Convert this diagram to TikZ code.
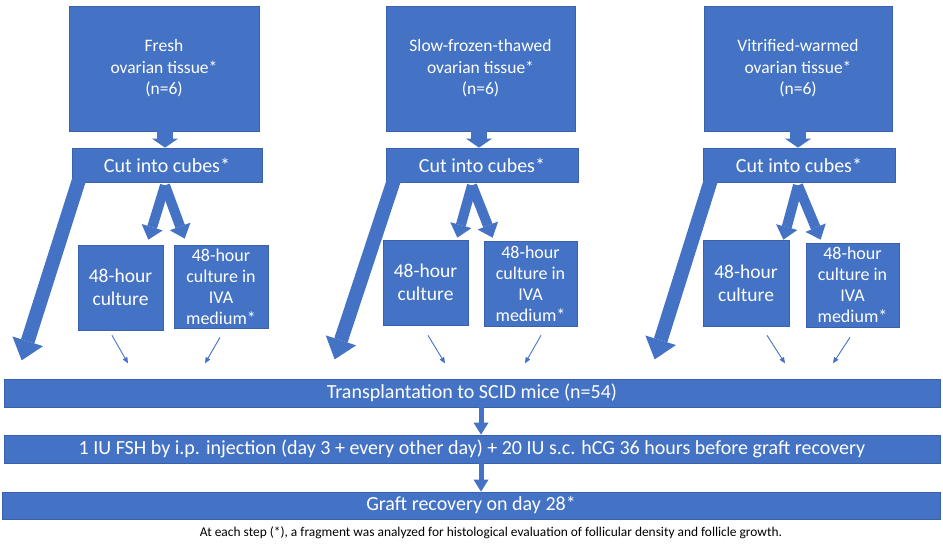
\documentclass[tikz,border=0pt]{standalone}
\usepackage{fontspec}
\setmainfont{Carlito}
\usetikzlibrary{arrows.meta, calc}
\definecolor{ofblue}{HTML}{4472C4}
\definecolor{ofedge}{HTML}{3A62AC}

\begin{document}
\begin{tikzpicture}[x=1pt, y=-1pt,
    box/.style={fill=ofblue, draw=ofedge, line width=0.7pt, text=white, align=center, inner sep=0pt},
    srcbox/.style={box, minimum height=125pt, font=\fontsize{17.5}{21.5}\selectfont},
    cutbox/.style={box, minimum height=34pt, font=\fontsize{20}{24}\selectfont},
    culbox/.style={box, font=\fontsize{19.5}{23}\selectfont},
    ivabox/.style={box, font=\fontsize{18}{21}\selectfont},
    stepbox/.style={box, minimum width=936pt, minimum height=28pt, font=\fontsize{20}{24}\selectfont},
    feedarr/.style={ofblue, line width=16pt, -{Triangle[width=26pt, length=9pt, line width=0pt]}},
    forkarr/.style={ofblue, line width=10pt, -{Triangle[width=22pt, length=13pt, line width=0pt]}},
    bigarr/.style={ofblue, line width=14pt, -{Triangle[width=32pt, length=20pt, line width=0pt]}},
    downarr/.style={ofblue, line width=5pt, -{Triangle[width=15pt, length=12pt, line width=0pt]}},
    thinarr/.style={ofblue, line width=0.9pt, -{Triangle[width=5pt, length=6pt]}}]
  \useasboundingbox (0,0) rectangle (943,546);

  % fresh tissue
  \node[srcbox, minimum width=190pt] (src1) at (164,68.5) {Fresh\\ovarian tissue*\\(n=6)};
  \node[cutbox, minimum width=190pt] (cut1) at (167,165) {Cut into cubes*};
  \node[culbox, minimum width=85pt, minimum height=85pt] (cul1) at (120.5,287.5) {48-hour\\culture};
  \node[ivabox, minimum width=94pt, minimum height=83pt] (iva1) at (221,286.5) {48-hour\\culture in\\IVA\\medium*};

  % slow-frozen tissue
  \node[srcbox, minimum width=189pt] (src2) at (480.5,68.5) {Slow-frozen-thawed\\ovarian tissue*\\(n=6)};
  \node[cutbox, minimum width=192pt] (cut2) at (482,165) {Cut into cubes*};
  \node[culbox, minimum width=85pt, minimum height=85pt] (cul2) at (425.5,282.5) {48-hour\\culture};
  \node[ivabox, minimum width=93pt, minimum height=85pt] (iva2) at (530.5,283.5) {48-hour\\culture in\\IVA\\medium*};

  % vitrified tissue
  \node[srcbox, minimum width=188pt] (src3) at (798,68.5) {Vitrified-warmed\\ovarian tissue*\\(n=6)};
  \node[cutbox, minimum width=192pt] (cut3) at (799,165) {Cut into cubes*};
  \node[culbox, minimum width=86pt, minimum height=86pt] (cul3) at (746,283) {48-hour\\culture};
  \node[ivabox, minimum width=93pt, minimum height=84pt] (iva3) at (852.5,285) {48-hour\\culture in\\IVA\\medium*};

  % common steps
  \node[stepbox] (tra) at (472,393) {Transplantation to SCID mice (n=54)};
  \node[stepbox] (fsh) at (472,449) {1 IU FSH by i.p. injection (day 3 + every other day) + 20 IU s.c. hCG 36 hours before graft recovery};
  \node[stepbox, minimum width=938pt, minimum height=27pt] (gra) at (471,505.5) {Graft recovery on day 28*};
  \node[font=\fontsize{13.4}{16}\selectfont] (note) at (491,533) {At each step (*), a fragment was analyzed for histological evaluation of follicular density and follicle growth.};

  % arrows
  \draw[feedarr] ([xshift=1pt]src1.south) -- ([xshift=1pt]src1.south |- cut1.north);
  \draw[feedarr] ([xshift=-1.5pt]src2.south) -- ([xshift=-1.5pt]src2.south |- cut2.north);
  \draw[feedarr] (src3.south) -- (src3.south |- cut3.north);

  \draw[forkarr] ($(cut1.south)+(-2,3)$) -- ($(cul1.north east)+(-15,-5)$);
  \draw[forkarr] ($(cut1.south)+(-2,3)$) -- ($(iva1.north west)+(11,-6)$);
  \draw[forkarr] ($(cut2.south)+(-10,3)$) -- ($(cul2.north east)+(-11,-2)$);
  \draw[forkarr] ($(cut2.south)+(-10,3)$) -- ($(iva2.north west)+(9,-3)$);
  \draw[forkarr] ($(cut3.south)+(-1,3)$) -- ($(cul3.north east)+(-6,0)$);
  \draw[forkarr] ($(cut3.south)+(-1,3)$) -- ($(iva3.north west)+(15,-3)$);

  \draw[bigarr] ($(cut1.south west)+(7.5,-3)$) -- ($(cut1.south west)+(-50,178)$);
  \draw[bigarr] ($(cut2.south west)+(8.5,-3)$) -- ($(cut2.south west)+(-51,177)$);
  \draw[bigarr] ($(cut3.south west)+(8.5,-3)$) -- ($(cut3.south west)+(-48,177)$);

  \draw[thinarr] ($(cul1.south)+(-8.5,5)$) -- ($(cul1.south)+(7.5,33)$);
  \draw[thinarr] ($(iva1.south)+(-1,9)$) -- ($(iva1.south)+(-16,35)$);
  \draw[thinarr] ($(cul2.south)+(2.5,10)$) -- ($(cul2.south)+(19.5,38)$);
  \draw[thinarr] ($(iva2.south)+(10.5,9)$) -- ($(iva2.south)+(-5.5,37)$);
  \draw[thinarr] ($(cul3.south)+(21,9)$) -- ($(cul3.south)+(39,37)$);
  \draw[thinarr] ($(iva3.south)+(-2.5,10)$) -- ($(iva3.south)+(-19.5,36)$);

  \draw[downarr] ([xshift=9pt]tra.south) -- ([xshift=9pt]fsh.north);
  \draw[downarr] ([xshift=9pt]fsh.south) -- ([xshift=9pt]fsh.south |- gra.north);
\end{tikzpicture}
\end{document}
